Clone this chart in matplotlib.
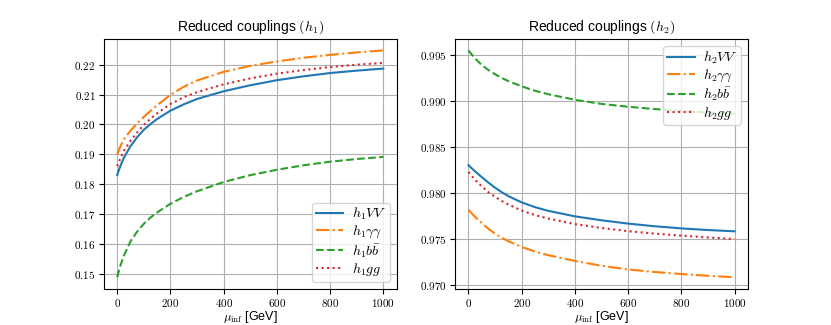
import matplotlib
matplotlib.use("Agg")
import matplotlib.pyplot as plt

plt.rcParams['mathtext.fontset'] = 'cm'
plt.rcParams['font.family'] = ['Liberation Sans', 'DejaVu Sans']

# x positions (mu_inf in GeV)
mu = [0, 10, 25, 50, 75, 100, 125, 150, 200, 250, 300, 400, 500, 600, 700, 800, 900, 1000]

# left panel (h1)
h1_VV = [0.1830, 0.1856, 0.1888, 0.1927, 0.1957, 0.1982, 0.2001, 0.2018, 0.2046, 0.2067, 0.2085,
         0.2111, 0.2131, 0.2148, 0.2161, 0.2172, 0.2180, 0.2187]
h1_gaga = [0.1899, 0.1922, 0.1950, 0.1979, 0.2003, 0.2025, 0.2045, 0.2064, 0.2099, 0.2126, 0.2147,
           0.2176, 0.2196, 0.2211, 0.2223, 0.2233, 0.2241, 0.2248]
h1_bb = [0.1488, 0.1522, 0.1560, 0.1608, 0.1641, 0.1667, 0.1688, 0.1705, 0.1734, 0.1757, 0.1776,
         0.1807, 0.1830, 0.1848, 0.1863, 0.1875, 0.1884, 0.1891]
h1_gg = [0.1860, 0.1882, 0.1911, 0.1945, 0.1973, 0.1998, 0.2019, 0.2037, 0.2068, 0.2091, 0.2108,
         0.2134, 0.2154, 0.2170, 0.2182, 0.2192, 0.2200, 0.2206]

# right panel (h2)
h2_VV = [0.98300, 0.98272, 0.98232, 0.98170, 0.98110, 0.98055, 0.98006, 0.97963, 0.97895, 0.97843,
         0.97803, 0.97743, 0.97700, 0.97664, 0.97635, 0.97612, 0.97594, 0.97580]
h2_gaga = [0.97815, 0.97783, 0.97737, 0.97670, 0.97607, 0.97555, 0.97510, 0.97472, 0.97410, 0.97360,
           0.97320, 0.97258, 0.97205, 0.97165, 0.97137, 0.97115, 0.97096, 0.97080]
h2_bb = [0.99550, 0.99513, 0.99462, 0.99390, 0.99335, 0.99290, 0.99250, 0.99215, 0.99158, 0.99110,
         0.99072, 0.99012, 0.98967, 0.98936, 0.98911, 0.98891, 0.98873, 0.98859]
h2_gg = [0.98225, 0.98190, 0.98140, 0.98069, 0.98006, 0.97955, 0.97910, 0.97872, 0.97806, 0.97757,
         0.97719, 0.97659, 0.97616, 0.97582, 0.97555, 0.97533, 0.97513, 0.97496]

labels1 = [r'$h_1VV$', r'$h_1\gamma\gamma$', r'$h_1b\bar{b}$', r'$h_1gg$']
labels2 = [r'$h_2VV$', r'$h_2\gamma\gamma$', r'$h_2b\bar{b}$', r'$h_2gg$']
yticks1 = [0.15, 0.16, 0.17, 0.18, 0.19, 0.20, 0.21, 0.22]
yticks2 = [0.970, 0.975, 0.980, 0.985, 0.990, 0.995]
xticks = [0, 200, 400, 600, 800, 1000]

fig, axes = plt.subplots(1, 2, figsize=(8.31, 3.25), dpi=100)
fig.subplots_adjust(left=0.125, right=0.9, bottom=0.112, top=0.88, wspace=0.2)

styles = [('-', 'C0'), ('-.', 'C1'), ('--', 'C2'), (':', 'C3')]

def draw(ax, x, series, labels, title, loc, yticks, fmt):
    for (ls, c), y, lab in zip(styles, series, labels):
        ax.plot(x, y, ls=ls, color=c, lw=1.5, label=lab)
    ax.set_title(title, fontsize=10)
    ax.set_xlabel(r'$\mu_{\rm inf}$ [GeV]', fontsize=9, labelpad=0)
    ax.grid(True)
    ax.set_xticks(xticks)
    ax.set_xticklabels([f'${t}$' for t in xticks], fontsize=8)
    ax.set_yticks(yticks)
    ax.set_yticklabels([f'${t:{fmt}}$' for t in yticks], fontsize=8)
    ax.tick_params(axis='both', pad=2.5)
    ax.legend(loc=loc, fontsize=10, labelspacing=0.12, borderpad=0.25,
              handlelength=2.0, handletextpad=0.6)

draw(axes[0], mu, [h1_VV, h1_gaga, h1_bb, h1_gg], labels1,
     r'Reduced couplings $(h_1)$', 'lower right', yticks1, '.2f')
draw(axes[1], mu, [h2_VV, h2_gaga, h2_bb, h2_gg], labels2,
     r'Reduced couplings $(h_2)$', 'upper right', yticks2, '.3f')

fig.savefig('out.png', dpi=100)
